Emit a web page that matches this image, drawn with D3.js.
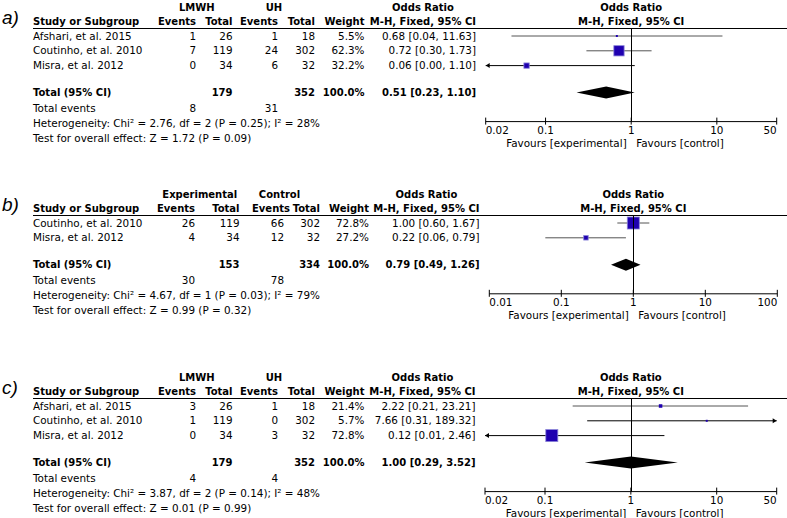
<!DOCTYPE html>
<html>
<head>
<meta charset="utf-8">
<script src="https://cdn.jsdelivr.net/npm/d3@7"></script>
<style>
  body { margin: 0; background: #fff; }
  svg text { font-family: "DejaVu Sans", sans-serif; font-size: 10.4px; fill: #000; }
  svg text.bold { font-weight: bold; font-size: 10px; }
  svg text.panel-label { font-family: "Liberation Sans", Arial, sans-serif; font-style: italic; font-size: 19px; }
</style>
</head>
<body>
<div id="chart"></div>
<script>
const WIDTH = 787;
const HEIGHT = 518;

// ---- panel a) ----
const A_GROUPS = ["LMWH", "UH"];
const A_STUDIES = ["Afshari, et al. 2015", "Coutinho, et al. 2010", "Misra, et al. 2012"];
const A_EXP_EVENTS = [1, 7, 0];
const A_EXP_TOTAL = [26, 119, 34];
const A_CTL_EVENTS = [1, 24, 6];
const A_CTL_TOTAL = [18, 302, 32];
const A_WEIGHT = [5.5, 62.3, 32.2];
const A_OR = [0.68, 0.72, 0.06];
const A_LO = [0.04, 0.30, 0.003];
const A_HI = [11.63, 1.73, 1.10];
const A_TOTAL = {exp: 179, ctl: 352, expEvents: 8, ctlEvents: 31, or: 0.51, lo: 0.23, hi: 1.10};
const A_HET = "Heterogeneity: Chi² = 2.76, df = 2 (P = 0.25); I² = 28%";
const A_TEST = "Test for overall effect: Z = 1.72 (P = 0.09)";
const A_TICKS = [0.02, 0.1, 1, 10, 50];

// ---- panel b) ----
const B_GROUPS = ["Experimental", "Control"];
const B_STUDIES = ["Coutinho, et al. 2010", "Misra, et al. 2012"];
const B_EXP_EVENTS = [26, 4];
const B_EXP_TOTAL = [119, 34];
const B_CTL_EVENTS = [66, 12];
const B_CTL_TOTAL = [302, 32];
const B_WEIGHT = [72.8, 27.2];
const B_OR = [1.00, 0.22];
const B_LO = [0.60, 0.06];
const B_HI = [1.67, 0.79];
const B_TOTAL = {exp: 153, ctl: 334, expEvents: 30, ctlEvents: 78, or: 0.79, lo: 0.49, hi: 1.26};
const B_HET = "Heterogeneity: Chi² = 4.67, df = 1 (P = 0.03); I² = 79%";
const B_TEST = "Test for overall effect: Z = 0.99 (P = 0.32)";
const B_TICKS = [0.01, 0.1, 1, 10, 100];

// ---- panel c) ----
const C_GROUPS = ["LMWH", "UH"];
const C_STUDIES = ["Afshari, et al. 2015", "Coutinho, et al. 2010", "Misra, et al. 2012"];
const C_EXP_EVENTS = [3, 1, 0];
const C_EXP_TOTAL = [26, 119, 34];
const C_CTL_EVENTS = [1, 0, 3];
const C_CTL_TOTAL = [18, 302, 32];
const C_WEIGHT = [21.4, 5.7, 72.8];
const C_OR = [2.22, 7.66, 0.12];
const C_LO = [0.21, 0.31, 0.01];
const C_HI = [23.21, 189.32, 2.46];
const C_TOTAL = {exp: 179, ctl: 352, expEvents: 4, ctlEvents: 4, or: 1.00, lo: 0.29, hi: 3.52};
const C_HET = "Heterogeneity: Chi² = 3.87, df = 2 (P = 0.14); I² = 48%";
const C_TEST = "Test for overall effect: Z = 0.01 (P = 0.99)";
const C_TICKS = [0.02, 0.1, 1, 10, 50];

const svg = d3.select("#chart").append("svg")
  .attr("width", WIDTH)
  .attr("height", HEIGHT);

const ROW_STEP = 14.8;
const SQUARE = d3.scaleLinear().domain([0, 100]).range([0, 16.5]);

function fmt(v) { return v.toFixed(2); }
function ciText(o, l, h) { return fmt(o) + " [" + fmt(l) + ", " + fmt(h) + "]"; }

function drawPanel(p) {
  const g = svg.append("g").attr("transform", `translate(0,${p.top})`);
  const c = p.cols;
  const n = p.studies.length;
  const rowY = (i) => 36 + i * ROW_STEP;
  const totalY = rowY(n - 1) + 27;
  const axisY = rowY(n - 1) + 56;

  const txt = (x, y, s, anchor, bold) => g.append("text")
    .attr("x", x).attr("y", y).attr("dy", "0.35em")
    .attr("text-anchor", anchor || "start")
    .attr("class", bold ? "bold" : null)
    .text(s);

  g.append("text").attr("class", "panel-label")
    .attr("x", 2).attr("y", 24).text(p.label);

  // headers
  txt((c.expEv - 35 + c.expTot) / 2, 7, p.groups[0], "middle", true);
  txt((c.ctlEv - 37 + c.ctlTot) / 2 - 4, 7, p.groups[1], "middle", true);
  txt(c.ci - 53, 7, "Odds Ratio", "middle", true);
  txt(c.name, 21, "Study or Subgroup", "start", true);
  txt(c.expEv, 21, "Events", "end", true);
  txt(c.expTot, 21, "Total", "end", true);
  txt(c.ctlEvH, 21, "Events", "end", true);
  txt(c.ctlTot, 21, "Total", "end", true);
  txt(c.wt, 21, "Weight", "end", true);
  txt(c.ci, 21, "M-H, Fixed, 95% CI", "end", true);

  g.append("line")
    .attr("x1", c.name).attr("x2", WIDTH)
    .attr("y1", 28.5).attr("y2", 28.5)
    .attr("stroke", "#000");

  // study rows
  p.studies.forEach((s, i) => {
    const y = rowY(i);
    txt(c.name, y, s);
    txt(c.expEv, y, p.expEvents[i], "end");
    txt(c.expTot, y, p.expTotal[i], "end");
    txt(c.ctlEv, y, p.ctlEvents[i], "end");
    txt(c.ctlTot, y, p.ctlTotal[i], "end");
    txt(c.wt, y, p.weight[i].toFixed(1) + "%", "end");
    txt(c.ci, y, ciText(p.or[i], p.lo[i], p.hi[i]), "end");
  });

  // totals
  const t = p.total;
  txt(c.name, totalY, "Total (95% CI)", "start", true);
  txt(c.expTot, totalY, t.exp, "end", true);
  txt(c.ctlTot, totalY, t.ctl, "end", true);
  txt(c.wt, totalY, "100.0%", "end", true);
  txt(c.ci, totalY, ciText(t.or, t.lo, t.hi), "end", true);
  txt(c.name, totalY + 15.5, "Total events");
  txt(c.expEv, totalY + 15.5, t.expEvents, "end");
  txt(c.ctlEv, totalY + 15.5, t.ctlEvents, "end");
  txt(c.name, totalY + 30.5, p.het);
  txt(c.name, totalY + 45.5, p.test);

  // plot
  const dom = d3.extent(p.ticks);
  const x = d3.scaleLog().domain(dom).range(p.range);
  const plotMid = (p.range[0] + p.range[1]) / 2;
  txt(plotMid, 7, "Odds Ratio", "middle", true);
  txt(plotMid, 21, "M-H, Fixed, 95% CI", "middle", true);

  p.studies.forEach((s, i) => {
    const y = rowY(i);
    const lo = Math.max(p.lo[i], dom[0]);
    const hi = Math.min(p.hi[i], dom[1]);
    const arrow = p.lo[i] < dom[0] || p.hi[i] > dom[1];
    g.append("line")
      .attr("x1", x(lo)).attr("x2", x(hi))
      .attr("y1", y).attr("y2", y)
      .attr("stroke", arrow ? "#000" : "#555")
      .attr("stroke-width", 1);
    if (p.lo[i] < dom[0]) {
      const ax = x(dom[0]);
      g.append("path").attr("d", `M${ax},${y} L${ax + 4},${y - 2.5} L${ax + 4},${y + 2.5} Z`).attr("fill", "#000");
    }
    if (p.hi[i] > dom[1]) {
      const ax = x(dom[1]);
      g.append("path").attr("d", `M${ax},${y} L${ax - 4},${y - 2.5} L${ax - 4},${y + 2.5} Z`).attr("fill", "#000");
    }
    const sz = Math.max(2, SQUARE(p.weight[i]));
    g.append("rect")
      .attr("x", x(p.or[i]) - sz / 2).attr("y", y - sz / 2)
      .attr("width", sz).attr("height", sz)
      .attr("fill", "#1f00b0")
      .attr("stroke", "#8b84d8")
      .attr("stroke-width", sz > 4 ? 0.8 : 0);
  });

  // diamond
  g.append("path")
    .attr("d", `M${x(t.lo)},${totalY} L${x(t.or)},${totalY - 6} L${x(t.hi)},${totalY} L${x(t.or)},${totalY + 6} Z`)
    .attr("fill", "#000");

  // no-effect line
  g.append("line")
    .attr("x1", Math.round(x(1)) + 0.5).attr("x2", Math.round(x(1)) + 0.5)
    .attr("y1", 28.5).attr("y2", axisY)
    .attr("stroke", "#000");

  // axis
  g.append("line")
    .attr("x1", p.range[0]).attr("x2", p.range[1])
    .attr("y1", axisY).attr("y2", axisY)
    .attr("stroke", "#000");
  p.ticks.forEach((tk, i) => {
    const tx = x(tk);
    g.append("line")
      .attr("x1", tx).attr("x2", tx)
      .attr("y1", axisY - 4).attr("y2", axisY + 3)
      .attr("stroke", "#000");
    const anchor = i === 0 ? "start" : (i === p.ticks.length - 1 ? "end" : "middle");
    txt(tx, axisY + 9, tk, anchor);
  });
  txt(x(1) - 4.5, axisY + 22, "Favours [experimental]", "end");
  txt(x(1) + 5, axisY + 22, "Favours [control]", "start");
}

drawPanel({
  label: "a)", top: 0, groups: A_GROUPS, studies: A_STUDIES,
  expEvents: A_EXP_EVENTS, expTotal: A_EXP_TOTAL, ctlEvents: A_CTL_EVENTS, ctlTotal: A_CTL_TOTAL,
  weight: A_WEIGHT, or: A_OR, lo: A_LO, hi: A_HI, total: A_TOTAL, het: A_HET, test: A_TEST,
  ticks: A_TICKS, range: [485.7, 776.7],
  cols: {name: 33, expEv: 196, expTot: 232.5, ctlEvH: 278, ctlEv: 278, ctlTot: 315, wt: 364.5, ci: 476}
});

drawPanel({
  label: "b)", top: 187, groups: B_GROUPS, studies: B_STUDIES,
  expEvents: B_EXP_EVENTS, expTotal: B_EXP_TOTAL, ctlEvents: B_CTL_EVENTS, ctlTotal: B_CTL_TOTAL,
  weight: B_WEIGHT, or: B_OR, lo: B_LO, hi: B_HI, total: B_TOTAL, het: B_HET, test: B_TEST,
  ticks: B_TICKS, range: [489.3, 777.3],
  cols: {name: 33, expEv: 195, expTot: 239.5, ctlEvH: 290, ctlEv: 284, ctlTot: 320, wt: 369, ci: 479.5}
});

drawPanel({
  label: "c)", top: 370, groups: C_GROUPS, studies: C_STUDIES,
  expEvents: C_EXP_EVENTS, expTotal: C_EXP_TOTAL, ctlEvents: C_CTL_EVENTS, ctlTotal: C_CTL_TOTAL,
  weight: C_WEIGHT, or: C_OR, lo: C_LO, hi: C_HI, total: C_TOTAL, het: C_HET, test: C_TEST,
  ticks: C_TICKS, range: [485, 776.7],
  cols: {name: 33, expEv: 196, expTot: 232.5, ctlEvH: 278, ctlEv: 278, ctlTot: 315, wt: 364.5, ci: 475.5}
});
</script>
</body>
</html>
